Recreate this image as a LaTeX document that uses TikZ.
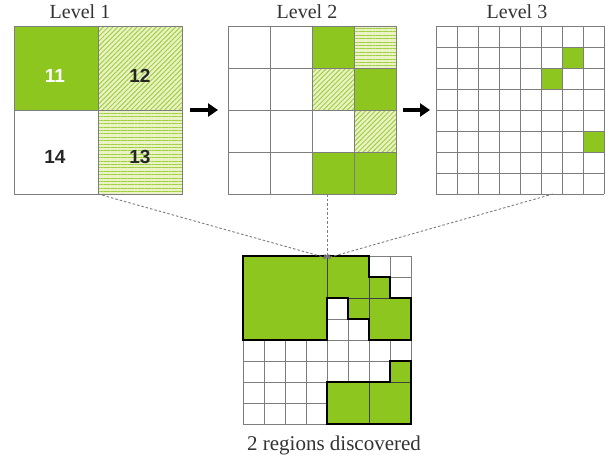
\documentclass[tikz,border=0pt]{standalone}
\usepackage{fontspec}
\setmainfont{Liberation Serif}
\newfontfamily\numfont{Liberation Sans}
\usetikzlibrary{patterns.meta,arrows.meta}
\definecolor{lgreen}{RGB}{141,198,31}
\definecolor{pale}{RGB}{234,243,198}
\definecolor{hatchc}{RGB}{163,207,66}
\definecolor{gridc}{RGB}{125,125,125}
\begin{document}
\begin{tikzpicture}[x=1pt,y=-1pt,
  gridbox/.style={minimum size=168pt,inner sep=0pt,outer sep=0pt,anchor=north west},
  diaghatch/.style={fill=pale,postaction={pattern={Lines[angle=45,distance=3.4pt,line width=1pt]},pattern color=hatchc}},
  horizhatch/.style={fill=pale,postaction={pattern={Lines[angle=0,distance=3.4pt,line width=1pt]},pattern color=hatchc}},
  gridline/.style={draw=gridc,line width=0.9pt},
  innerline/.style={draw=black!75,line width=0.7pt},
  outline/.style={draw=black,line width=2.6pt,line join=miter},
  numtxt/.style={font=\numfont\bfseries\fontsize{19}{19}\selectfont,anchor=base,inner sep=0pt},
  lvltxt/.style={font=\fontsize{20}{20}\selectfont,anchor=base,inner sep=0pt,text=black!80},
  bigarrow/.style={line width=4.2pt,-{Triangle[length=10pt,width=13pt]}},
  connector/.style={draw=gridc,dashed,dash pattern=on 2.5pt off 2pt,line width=0.9pt,-{Stealth[length=4pt,width=5pt]}}]
\useasboundingbox (0,0) rectangle (610,467);
\fill[white] (0,0) rectangle (610,467);

% grid anchor nodes
\node[gridbox] (L1) at (14,26) {};
\node[gridbox] (L2) at (228,26) {};
\node[gridbox] (L3) at (436,26) {};
\node[gridbox] (B) at (243,256) {};

% ---- Level 1
\fill[lgreen] (14,26) rectangle (98,110);
\path[diaghatch] (98,26) rectangle (182,110);
\path[horizhatch] (98,110) rectangle (182,194);
\draw[gridline] (14,26) rectangle (182,194);
\draw[gridline] (14,110) -- (182,110) (98,26) -- (98,194);
\node[numtxt,text=white] (n11) at (55,82) {11};
\node[numtxt,text=black!85] (n12) at (140,82) {12};
\node[numtxt,text=black!85] (n14) at (55,163) {14};
\node[numtxt,text=black!85] (n13) at (140,163) {13};

% ---- Level 2
\fill[lgreen] (312,26) rectangle (354,68);
\path[horizhatch] (354,26) rectangle (396,68);
\path[diaghatch] (312,68) rectangle (354,110);
\fill[lgreen] (354,68) rectangle (396,110);
\path[diaghatch] (354,110) rectangle (396,152);
\fill[lgreen] (312,152) rectangle (396,194);
\foreach \i in {0,...,4} {
  \draw[gridline] (228+42*\i,26) -- (228+42*\i,194);
  \draw[gridline] (228,26+42*\i) -- (396,26+42*\i);
}

% ---- Level 3
\fill[lgreen] (562,47) rectangle (583,68);
\fill[lgreen] (541,68) rectangle (562,89);
\fill[lgreen] (583,131) rectangle (604,152);
\foreach \i in {0,...,8} {
  \draw[gridline] (436+21*\i,26) -- (436+21*\i,194);
  \draw[gridline] (436,26+21*\i) -- (604,26+21*\i);
}

% ---- Bottom combined grid
\foreach \i in {0,...,8} {
  \draw[gridline] (243+21*\i,256) -- (243+21*\i,424);
  \draw[gridline] (243,256+21*\i) -- (411,256+21*\i);
}
\fill[lgreen] (243,256) -- (369,256) -- (369,277) -- (390,277) -- (390,298) -- (411,298)
  -- (411,340) -- (369,340) -- (369,319) -- (348,319) -- (348,298) -- (327,298) -- (327,340)
  -- (243,340) -- cycle;
\fill[lgreen] (327,424) -- (327,382) -- (390,382) -- (390,361) -- (411,361) -- (411,424) -- cycle;
\draw[innerline] (327,256) -- (327,298) (348,298) -- (390,298) (369,277) -- (369,319)
  (369,382) -- (369,424) (390,382) -- (411,382);
\draw[outline] (243,256) -- (369,256) -- (369,277) -- (390,277) -- (390,298) -- (411,298)
  -- (411,340) -- (369,340) -- (369,319) -- (348,319) -- (348,298) -- (327,298) -- (327,340)
  -- (243,340) -- cycle;
\draw[outline] (327,424) -- (327,382) -- (390,382) -- (390,361) -- (411,361) -- (411,424) -- cycle;

% ---- arrows between levels
\draw[bigarrow] ([xshift=8pt]L1.east) -- ([xshift=-10pt]L2.west);
\draw[bigarrow] ([xshift=7pt]L2.east) -- ([xshift=-6pt]L3.west);

% ---- dashed connectors
\coordinate (meet) at ([yshift=-2pt]B.north);
\coordinate (L2out) at (L2.south -| B.north);
\coordinate (L3out) at ([xshift=33pt]L3.south);
\draw[connector] (L1.south) -- (meet);
\draw[connector] (L2out) -- (meet);
\draw[connector] (L3out) -- (meet);

% ---- labels
\node[lvltxt] (t1) at (80,18) {Level 1};
\node[lvltxt] (t2) at (307,18) {Level 2};
\node[lvltxt] (t3) at (517,18) {Level 3};
\node[lvltxt,font=\fontsize{21}{21}\selectfont] (t4) at (334,450) {2 regions discovered};
\end{tikzpicture}
\end{document}
